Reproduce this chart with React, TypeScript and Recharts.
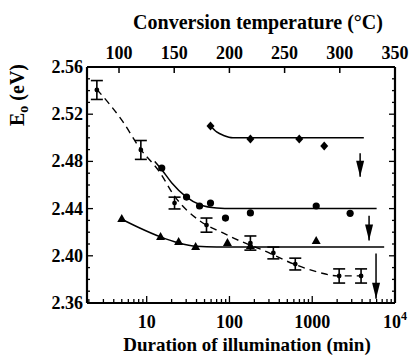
import React from "react";
import { ComposedChart, Line, Scatter, XAxis, YAxis, ErrorBar } from "recharts";

// E0 vs duration of illumination
const dashedPts = [
  { x: 2.5, y: 2.5405, e: 0.008 },
  { x: 8.5, y: 2.4897, e: 0.008 },
  { x: 21.7, y: 2.4447, e: 0.005 },
  { x: 52.8, y: 2.426, e: 0.006 },
  { x: 179, y: 2.4108, e: 0.006 },
  { x: 339, y: 2.4024, e: 0.005 },
  { x: 624, y: 2.393, e: 0.005 },
  { x: 2115, y: 2.3829, e: 0.006 },
  { x: 3890, y: 2.3829, e: 0.006 },
];
const dashedFit = [
  { x: 2.5, y: 2.541 }, { x: 5, y: 2.515 }, { x: 8.5, y: 2.49 }, { x: 14, y: 2.472 },
  { x: 22, y: 2.45 }, { x: 43, y: 2.43 }, { x: 80, y: 2.42 }, { x: 130, y: 2.413 },
  { x: 250, y: 2.405 }, { x: 600, y: 2.393 }, { x: 1200, y: 2.386 }, { x: 2000, y: 2.383 },
  { x: 4000, y: 2.383 },
];

const diamondPts = [
  { x: 59, y: 2.51 }, { x: 179, y: 2.499 }, { x: 697, y: 2.499 }, { x: 1396, y: 2.493 },
];
const diamondFit = [
  { x: 59, y: 2.51 }, { x: 70, y: 2.505 }, { x: 85, y: 2.502 }, { x: 110, y: 2.5 },
  { x: 4200, y: 2.5 },
];

const circlePts = [
  { x: 15.2, y: 2.4744 }, { x: 30.3, y: 2.4498 }, { x: 43.5, y: 2.4422 }, { x: 59, y: 2.4447 },
  { x: 89.5, y: 2.432 }, { x: 179, y: 2.4363 }, { x: 1117, y: 2.4422 }, { x: 2870, y: 2.436 },
];
const circleFit = [
  { x: 12.5, y: 2.48 }, { x: 15.2, y: 2.473 }, { x: 20, y: 2.462 }, { x: 30, y: 2.45 },
  { x: 45, y: 2.443 }, { x: 70, y: 2.4405 }, { x: 110, y: 2.44 }, { x: 6000, y: 2.44 },
];

const trianglePts = [
  { x: 5, y: 2.4312 }, { x: 14.7, y: 2.416 }, { x: 24.3, y: 2.4117 }, { x: 39, y: 2.4075 },
  { x: 94.6, y: 2.4108 }, { x: 179, y: 2.4083 }, { x: 1117, y: 2.4125 },
];
const triangleFit = [
  { x: 5, y: 2.431 }, { x: 8, y: 2.424 }, { x: 14.7, y: 2.416 }, { x: 24, y: 2.411 },
  { x: 40, y: 2.408 }, { x: 70, y: 2.4075 }, { x: 7400, y: 2.4075 },
];

const arrows = [
  [{ x: 3790, y: 2.487 }, { x: 3790, y: 2.467 }],
  [{ x: 4860, y: 2.434 }, { x: 4860, y: 2.413 }],
  [{ x: 5900, y: 2.402 }, { x: 5900, y: 2.3635 }],
];

const topTicks = [100, 150, 200, 250, 300, 350];
const bottomMajor = [10, 100, 1000, 10000];
const bottomTicks: number[] = [];
for (const d of [1, 10, 100, 1000]) {
  for (let m = d === 1 ? 2 : 1; m <= 9; m++) bottomTicks.push(m * d);
}
bottomTicks.push(10000);
const yTicks: number[] = [];
for (let i = 236; i <= 256; i++) yTicks.push(i / 100);

// invisible carrier so the temperature axis gets drawn
const topCarrier = topTicks.map(t => ({ x: t, y: 2.46 }));

const FONT = "'Liberation Serif', 'Times New Roman', serif";
const font = (size: number): React.CSSProperties => ({
  fontFamily: FONT, fontWeight: 700, fontSize: size, fill: "#000",
});

function BottomTick(props: any) {
  const x = Number(props.x), y = Number(props.y);
  const v = props.payload.value;
  const major = bottomMajor.includes(v);
  return (
    <g>
      <line x1={x} x2={x} y1={y} y2={y - (major ? 7 : 4)} stroke="#000" strokeWidth={1.3} />
      {major && (
        <text x={x} y={y + 25} textAnchor="middle" style={font(18)}>
          10
          {v === 10000 ? <tspan dy={-8} style={font(12)}>4</tspan> : v === 10 ? "" : v === 100 ? "0" : "00"}
        </text>
      )}
    </g>
  );
}

function TopTick(props: any) {
  const x = Number(props.x), y = Number(props.y);
  return (
    <g>
      <line x1={x} x2={x} y1={y} y2={y + 6} stroke="#000" strokeWidth={1.5} />
      <text x={x} y={y - 8} textAnchor="middle" style={font(18)}>{props.payload.value}</text>
    </g>
  );
}

function LeftTick(props: any) {
  const x = Number(props.x), y = Number(props.y);
  const major = Math.round(props.payload.value * 100) % 4 === 0;
  return (
    <g>
      <line x1={x} x2={x + (major ? 6 : 3)} y1={y} y2={y} stroke="#000" strokeWidth={1.3} />
      {major && (
        <text x={x - 4} y={y + 6} textAnchor="end" style={font(18)}>{props.payload.value.toFixed(2)}</text>
      )}
    </g>
  );
}

function RightTick(props: any) {
  const x = Number(props.x), y = Number(props.y);
  const major = Math.round(props.payload.value * 100) % 4 === 0;
  return <line x1={x} x2={x - (major ? 6 : 3)} y1={y} y2={y} stroke="#000" strokeWidth={1.3} />;
}

const diamond = (p: any) => (
  <path d={`M${p.cx},${p.cy - 4.5}L${p.cx + 4},${p.cy}L${p.cx},${p.cy + 4.5}L${p.cx - 4},${p.cy}Z`} fill="#000" />
);
const circle = (p: any) => <circle cx={p.cx} cy={p.cy} r={3.6} fill="#000" />;
const triangle = (p: any) => (
  <path d={`M${p.cx},${p.cy - 5}L${p.cx + 4.5},${p.cy + 3}L${p.cx - 4.5},${p.cy + 3}Z`} fill="#000" />
);
const smallDot = (p: any) => <circle cx={p.cx} cy={p.cy} r={2.4} fill="#000" />;

const arrowDot = (p: any) =>
  p.index === 1 ? (
    <path key={p.key ?? p.index} d={`M${p.cx - 4},${p.cy - 16}L${p.cx + 4},${p.cy - 16}L${p.cx},${p.cy}Z`} fill="#000" />
  ) : (
    <g key={p.key ?? p.index} />
  );

const frame = { stroke: "#000", strokeWidth: 2.2 };

export default function App() {
  return (
    <div style={{ position: "absolute", left: 0, top: 0 }}>
      <ComposedChart width={413} height={360} margin={{ top: 22, right: 17, bottom: 17, left: 27 }}>
        <XAxis
          xAxisId="bottom"
          dataKey="x"
          type="number"
          scale="log"
          domain={[1.9, 10000]}
          allowDataOverflow
          ticks={bottomTicks}
          interval={0}
          tick={<BottomTick />}
          tickSize={0}
          tickMargin={0}
          tickLine={false}
          axisLine={frame}
          height={40}
          label={{
            content: (lp: any) => {
              const vb = lp.viewBox;
              return (
                <text x={vb.x + vb.width / 2 + 6} y={351} textAnchor="middle" style={font(19)}>
                  Duration of illumination (min)
                </text>
              );
            },
          }}
        />
        <XAxis
          xAxisId="top"
          dataKey="x"
          orientation="top"
          type="number"
          domain={[71, 350]}
          allowDataOverflow
          ticks={topTicks}
          interval={0}
          tick={<TopTick />}
          tickSize={0}
          tickMargin={0}
          tickLine={false}
          axisLine={frame}
          height={45}
          label={{
            content: (lp: any) => {
              const vb = lp.viewBox;
              return (
                <text x={vb.x + vb.width / 2 + 17} y={29} textAnchor="middle" style={font(20)}>
                  Conversion temperature (°C)
                </text>
              );
            },
          }}
        />
        <YAxis
          yAxisId="left"
          dataKey="y"
          type="number"
          domain={[2.36, 2.56]}
          allowDataOverflow
          ticks={yTicks}
          interval={0}
          tick={<LeftTick />}
          tickSize={0}
          tickMargin={0}
          tickLine={false}
          axisLine={frame}
          width={60}
          label={{
            content: () => (
              <text transform="translate(24, 95) rotate(-90)" textAnchor="middle" style={font(20)}>
                E<tspan dy={4} style={font(14)}>o</tspan>
                <tspan dy={-4}> (eV)</tspan>
              </text>
            ),
          }}
        />
        <YAxis
          yAxisId="right"
          orientation="right"
          type="number"
          domain={[2.36, 2.56]}
          allowDataOverflow
          ticks={yTicks}
          interval={0}
          tick={<RightTick />}
          tickSize={0}
          tickMargin={0}
          tickLine={false}
          axisLine={frame}
          width={1}
        />

        <Line data={topCarrier} dataKey="y" xAxisId="top" yAxisId="left" stroke="none" dot={false}
          activeDot={false} isAnimationActive={false} />

        <Line data={dashedFit} dataKey="y" xAxisId="bottom" yAxisId="left" type="monotone" stroke="#000"
          strokeWidth={1.4} strokeDasharray="7 5" dot={false} isAnimationActive={false} />
        <Line data={diamondFit} dataKey="y" xAxisId="bottom" yAxisId="left" type="monotone" stroke="#000"
          strokeWidth={1.5} dot={false} isAnimationActive={false} />
        <Line data={circleFit} dataKey="y" xAxisId="bottom" yAxisId="left" type="monotone" stroke="#000"
          strokeWidth={1.5} dot={false} isAnimationActive={false} />
        <Line data={triangleFit} dataKey="y" xAxisId="bottom" yAxisId="left" type="monotone" stroke="#000"
          strokeWidth={1.5} dot={false} isAnimationActive={false} />
        {arrows.map((a, i) => (
          <Line key={i} data={a} dataKey="y" xAxisId="bottom" yAxisId="left" type="linear" stroke="#000"
            strokeWidth={1.5} dot={arrowDot} isAnimationActive={false} />
        ))}

        <Scatter data={dashedPts} dataKey="y" xAxisId="bottom" yAxisId="left" shape={smallDot} isAnimationActive={false}>
          <ErrorBar dataKey="e" direction="y" width={6} stroke="#000" strokeWidth={1.6} />
        </Scatter>
        <Scatter data={diamondPts} dataKey="y" xAxisId="bottom" yAxisId="left" shape={diamond} isAnimationActive={false} />
        <Scatter data={circlePts} dataKey="y" xAxisId="bottom" yAxisId="left" shape={circle} isAnimationActive={false} />
        <Scatter data={trianglePts} dataKey="y" xAxisId="bottom" yAxisId="left" shape={triangle} isAnimationActive={false} />
      </ComposedChart>
    </div>
  );
}
